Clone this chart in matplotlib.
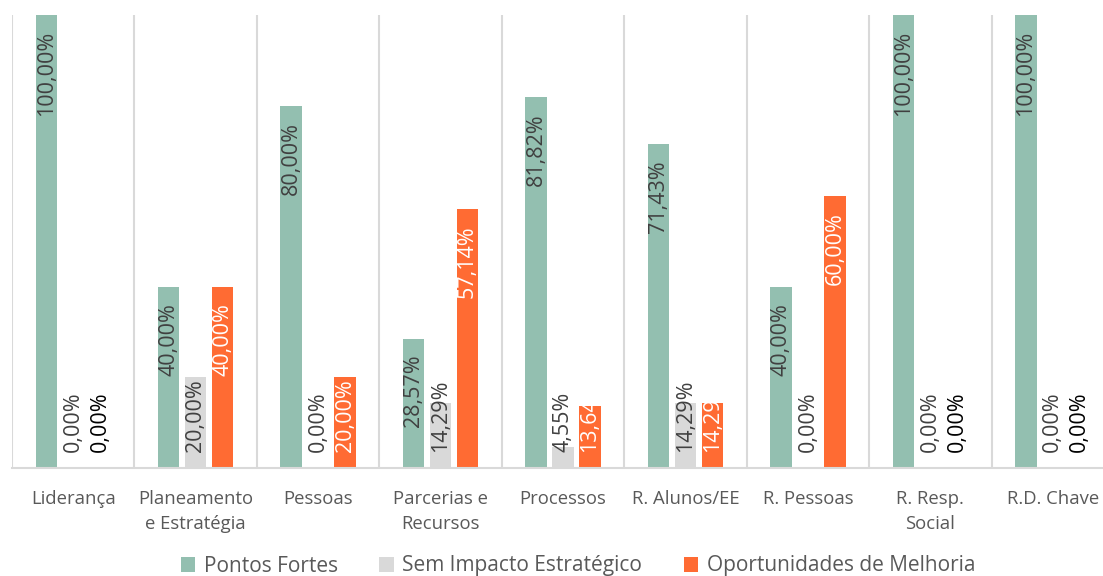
import numpy as np
import matplotlib.pyplot as plt
from matplotlib.patches import Patch

# Chart data
categories = ['Liderança', 'Planeamento\ne Estratégia', 'Pessoas', 'Parcerias e\nRecursos',
              'Processos', 'R. Alunos/EE', 'R. Pessoas', 'R. Resp.\nSocial', 'R.D. Chave']
series_names = ['Pontos Fortes', 'Sem Impacto Estratégico', 'Oportunidades de Melhoria']
pontos_fortes = [100.00, 40.00, 80.00, 28.57, 81.82, 71.43, 40.00, 100.00, 100.00]
sem_impacto = [0.00, 20.00, 0.00, 14.29, 4.55, 14.29, 0.00, 0.00, 0.00]
oportunidades = [0.00, 40.00, 20.00, 57.14, 13.64, 14.29, 60.00, 0.00, 0.00]

colors = ['#93BFB0', '#D9D9D9', '#FF6B33']
label_colors = ['#404040', '#404040', 'white']
zero_colors = ['#404040', '#404040', 'black']

plt.rcParams['font.family'] = ['Open Sans', 'DejaVu Sans']

fig = plt.figure(figsize=(11.03, 5.76), dpi=100)
ax = fig.add_axes([12 / 1103, 108 / 576, 1102 / 1103, 453 / 576])

x = np.arange(len(categories))
width = 0.175
step = 0.22
all_series = [pontos_fortes, sem_impacto, oportunidades]

for i, vals in enumerate(all_series):
    ax.bar(x + (i - 1) * step, vals, width, color=colors[i], zorder=2)

ax.set_xlim(-0.5, len(categories) - 0.5)
ax.set_ylim(0, 100)

# category separators
ax.set_xticks(np.arange(-0.5, len(categories), 1), minor=True)
ax.grid(which='minor', axis='x', color='#D9D9D9', linewidth=1.5, zorder=0)
ax.set_xticks(x)
ax.set_xticklabels(categories, fontsize=13.3, color='#595959', linespacing=1.45)
ax.tick_params(axis='x', which='both', length=0, pad=16)
ax.set_yticks([])
for s in ['top', 'left', 'right']:
    ax.spines[s].set_visible(False)
ax.spines['bottom'].set_color('#D9D9D9')
ax.spines['bottom'].set_linewidth(1.5)
ax.spines['bottom'].set_zorder(3)

# data labels, rotated, inside end but not below the base
fig.canvas.draw()
r = fig.canvas.get_renderer()
pad = 16 / ax.bbox.height * 100
for i, vals in enumerate(all_series):
    for xi, v in zip(x, vals):
        s = f'{v:.2f}%'.replace('.', ',')
        c = zero_colors[i] if v == 0 else label_colors[i]
        t = ax.text(xi + (i - 1) * step, pad, s, rotation=90, ha='center', va='bottom',
                    fontsize=15.5, color=c, zorder=4)
        h = t.get_window_extent(r).height / ax.bbox.height * 100
        t.set_y(max(pad, v - pad - h))

handles = [Patch(facecolor=colors[i], label=series_names[i]) for i in range(3)]
fig.legend(handles=handles, loc='center', bbox_to_anchor=(578 / 1103, 1 - 566 / 576), ncol=3,
           frameon=False, fontsize=15, labelcolor='#595959', handlelength=0.7, handleheight=0.7,
           handletextpad=0.4, columnspacing=2.0)

fig.savefig('out.png', dpi=100)
